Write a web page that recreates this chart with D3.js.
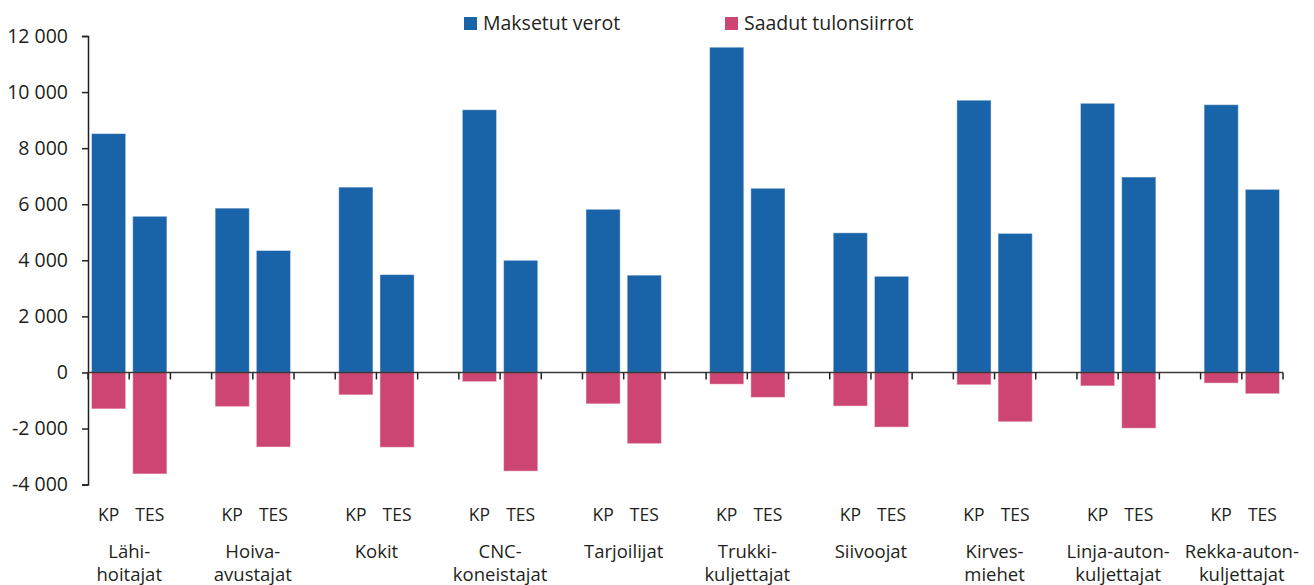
<!DOCTYPE html>
<html>
<head>
<meta charset="utf-8">
<script src="https://cdn.jsdelivr.net/npm/d3@7"></script>
<style>
  html, body { margin: 0; padding: 0; background: #fff; }
  svg { display: block; }
  text { font-family: "Open Sans", sans-serif; fill: #231f20; }
</style>
</head>
<body>
<svg id="chart" width="1314" height="585"></svg>
<script>
// --- data ---
const categories = [
  ["Lähi-", "hoitajat"], ["Hoiva-", "avustajat"], ["Kokit"], ["CNC-", "koneistajat"],
  ["Tarjoilijat"], ["Trukki-", "kuljettajat"], ["Siivoojat"], ["Kirves-", "miehet"],
  ["Linja-auton-", "kuljettajat"], ["Rekka-auton-", "kuljettajat"]
];
const groups = ["KP", "TES"];
const taxesKP  = [8520, 5860, 6610, 9370, 5820, 11600, 4980, 9710, 9600, 9550];
const taxesTES = [5570, 4350, 3490, 4000, 3470, 6570, 3430, 4960, 6970, 6530];
const transfersKP  = [-1300, -1220, -800, -330, -1120, -420, -1200, -440, -480, -380];
const transfersTES = [-3620, -2660, -2670, -3520, -2540, -890, -1950, -1760, -1990, -760];
const yTicks = [-4000, -2000, 0, 2000, 4000, 6000, 8000, 10000, 12000];
const seriesNames = ["Maksetut verot", "Saadut tulonsiirrot"];
const colors = ["#1964a8", "#cd4673"];

const svg = d3.select("#chart");

// slots: KP, TES, empty gap, KP, TES, gap ... (no gap after last)
const slots = [];
categories.forEach((c, i) => {
  slots.push(i + "|KP", i + "|TES");
  if (i < categories.length - 1) slots.push("gap" + i);
});

const x = d3.scaleBand()
  .domain(slots)
  .range([88, 1283])
  .paddingInner(0.17)
  .paddingOuter(0.085);

const y = d3.scaleLinear().domain([-4000, 12000]).range([484.6, 36]);

const fmt = d3.formatLocale({ decimal: ",", thousands: " ", grouping: [3], currency: ["", ""], minus: "-" }).format(",d");

// bars
const bars = [];
categories.forEach((c, i) => {
  bars.push({ key: i + "|KP", v: taxesKP[i], s: 0 });
  bars.push({ key: i + "|TES", v: taxesTES[i], s: 0 });
  bars.push({ key: i + "|KP", v: transfersKP[i], s: 1 });
  bars.push({ key: i + "|TES", v: transfersTES[i], s: 1 });
});

svg.append("g")
  .selectAll("rect")
  .data(bars)
  .join("rect")
  .attr("x", d => x(d.key))
  .attr("width", x.bandwidth())
  .attr("y", d => y(Math.max(0, d.v)))
  .attr("height", d => Math.abs(y(d.v) - y(0)))
  .attr("fill", d => colors[d.s])
  .attr("stroke", "rgba(255,255,255,0.45)")
  .attr("stroke-width", 1);

// y axis
const yAxis = svg.append("g")
  .attr("transform", "translate(88,0)")
  .call(d3.axisLeft(y).tickValues(yTicks).tickFormat(fmt).tickSize(6).tickPadding(14));
yAxis.select(".domain").attr("stroke", "#231f20").attr("stroke-width", 1.5);
yAxis.selectAll(".tick line").attr("stroke", "#231f20").attr("stroke-width", 1.5);
yAxis.selectAll(".tick text")
  .style("font-family", '"Open Sans", sans-serif')
  .style("font-size", "19.5px")
  .attr("fill", "#231f20");

// x axis line at zero with ticks at every slot boundary
const step = x.step();
const boundaries = d3.range(slots.length + 1).map(k => 88 + k * step);
const xAxis = svg.append("g");
xAxis.append("line")
  .attr("x1", 88).attr("x2", 1283)
  .attr("y1", y(0)).attr("y2", y(0))
  .attr("stroke", "#3a3a3a").attr("stroke-width", 1.5);
xAxis.selectAll("line.tk")
  .data(boundaries)
  .join("line")
  .attr("class", "tk")
  .attr("x1", d => d).attr("x2", d => d)
  .attr("y1", y(0)).attr("y2", y(0) + 7)
  .attr("stroke", "#231f20").attr("stroke-width", 1.5);

// group labels KP / TES
const groupLabels = [];
categories.forEach((c, i) => groups.forEach(g => groupLabels.push({ key: i + "|" + g, g })));
svg.append("g")
  .selectAll("text")
  .data(groupLabels)
  .join("text")
  .attr("x", d => x(d.key) + x.bandwidth() / 2)
  .attr("y", 521)
  .attr("text-anchor", "middle")
  .style("font-size", "17.5px")
  .text(d => d.g);

// category labels, one text per line
const catG = svg.append("g")
  .selectAll("g")
  .data(categories)
  .join("g")
  .attr("transform", (d, i) => `translate(${x(i + "|TES") - (step - x.bandwidth()) / 2},0)`);
catG.selectAll("text")
  .data(d => d)
  .join("text")
  .attr("text-anchor", "middle")
  .style("font-size", "18.5px")
  .attr("y", (d, j) => 558 + j * 23)
  .text(d => d);

// legend
const legend = svg.append("g");
const legendX = [464, 725];
seriesNames.forEach((name, i) => {
  legend.append("rect")
    .attr("x", legendX[i]).attr("y", 17)
    .attr("width", 13).attr("height", 13)
    .attr("fill", colors[i]);
  legend.append("text")
    .attr("x", legendX[i] + 19).attr("y", 30)
    .style("font-size", "19.5px")
    .text(name);
});
</script>
</body>
</html>
